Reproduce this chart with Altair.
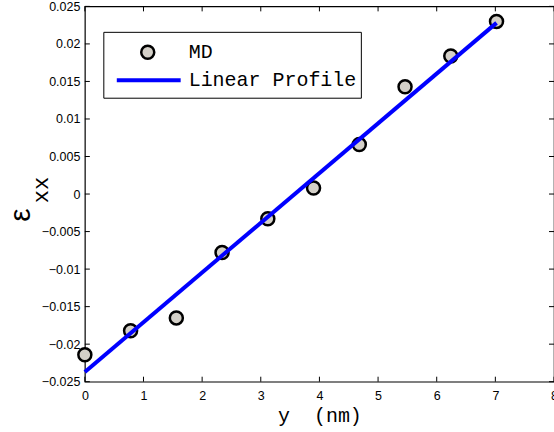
import altair as alt
import pandas as pd

# data
x_md = [0.0, 0.78, 1.56, 2.34, 3.12, 3.90, 4.68, 5.46, 6.24, 7.02]
eps_md = [-0.0214, -0.0182, -0.0165, -0.0078, -0.0033, 0.0008, 0.0066, 0.0143, 0.0184, 0.0230]
x_fit = [0.0, 7.02]
eps_fit = [-0.0237, 0.0228]
x_ticks = [0, 1, 2, 3, 4, 5, 6, 7, 8]
y_ticks = [-0.025, -0.02, -0.015, -0.01, -0.005, 0, 0.005, 0.01, 0.015, 0.02, 0.025]
series_names = ["MD", "Linear Profile"]

W, H = 470, 376

md = pd.DataFrame({"x": x_md, "eps": eps_md})
fit = pd.DataFrame({"x": x_fit, "eps": eps_fit})
xt = pd.DataFrame({"x": x_ticks})
yt = pd.DataFrame({"eps": y_ticks})
one = pd.DataFrame({"a": [0]})

xs = alt.Scale(domain=[0, 8], nice=False, zero=False)
ys = alt.Scale(domain=[-0.025, 0.025], nice=False, zero=False)

xaxis = alt.Axis(values=x_ticks, ticks=False, domain=False, grid=False,
                 labelFont="Liberation Sans", labelFontSize=12.5, labelPadding=8,
                 labelFlush=False, labelColor="black", title="y\u00a0\u00a0(nm)",
                 titleFont="Liberation Mono", titleFontSize=20, titleFontWeight="normal",
                 titleColor="black", titlePadding=3)
yaxis = alt.Axis(values=y_ticks, format=".3~f", ticks=False, domain=False, grid=False,
                 labelFont="Liberation Sans", labelFontSize=12.5, labelPadding=5,
                 labelFlush=False, labelColor="black", title=None)

X = alt.X("x:Q", scale=xs, axis=xaxis)
Y = alt.Y("eps:Q", scale=ys, axis=yaxis)

points = alt.Chart(md).mark_circle(
    color="#d4d0c8", stroke="black", strokeWidth=2.5, size=170, opacity=1
).encode(x=X, y=Y)

line = alt.Chart(fit).mark_line(color="#0000ff", strokeWidth=4).encode(x=X, y=Y)

tl = alt.Chart(yt).mark_rule(color="black").encode(y=Y, x=alt.value(0), x2=alt.value(5))
tr = alt.Chart(yt).mark_rule(color="black").encode(y=Y, x=alt.value(W - 5), x2=alt.value(W))
tb = alt.Chart(xt).mark_rule(color="black").encode(x=X, y=alt.value(H - 5), y2=alt.value(H))
tt = alt.Chart(xt).mark_rule(color="black").encode(x=X, y=alt.value(0), y2=alt.value(5))

# legend
box = alt.Chart(one).mark_rect(fill="white", stroke="black", strokeWidth=1).encode(
    x=alt.value(19), x2=alt.value(277), y=alt.value(26), y2=alt.value(92))
leg_pt = alt.Chart(one).mark_circle(
    color="#d4d0c8", stroke="black", strokeWidth=2.5, size=170, opacity=1
).encode(x=alt.value(63), y=alt.value(46))
leg_ln = alt.Chart(one).mark_rule(color="#0000ff", strokeWidth=4).encode(
    x=alt.value(32), x2=alt.value(96), y=alt.value(74))
leg_t1 = alt.Chart(one).mark_text(
    text=series_names[0], font="Liberation Mono", fontSize=20, align="left",
    baseline="middle", color="black").encode(x=alt.value(104), y=alt.value(46))
leg_t2 = alt.Chart(one).mark_text(
    text=series_names[1], font="Liberation Mono", fontSize=20, align="left",
    baseline="middle", color="black").encode(x=alt.value(104), y=alt.value(74))

# y title: epsilon with subscript xx, rotated
ytitle1 = alt.Chart(one).mark_text(
    text="ε", font="Liberation Sans", fontSize=30, angle=270, align="center",
    baseline="middle", color="black").encode(x=alt.value(-64), y=alt.value(209))
ytitle2 = alt.Chart(one).mark_text(
    text="xx", font="Liberation Mono", fontSize=22, angle=270, align="center",
    baseline="middle", color="black").encode(x=alt.value(-44), y=alt.value(184))

chart = alt.layer(
    points, line, tl, tr, tb, tt, box, leg_pt, leg_ln, leg_t1, leg_t2, ytitle1, ytitle2
).properties(
    width=W, height=H, autosize="none",
    padding={"left": 85, "top": 6, "right": 0, "bottom": 50},
    background="white",
).configure_view(stroke="black", strokeWidth=1.2)

chart.save("out.html", embed_options={"renderer": "svg", "actions": False})
